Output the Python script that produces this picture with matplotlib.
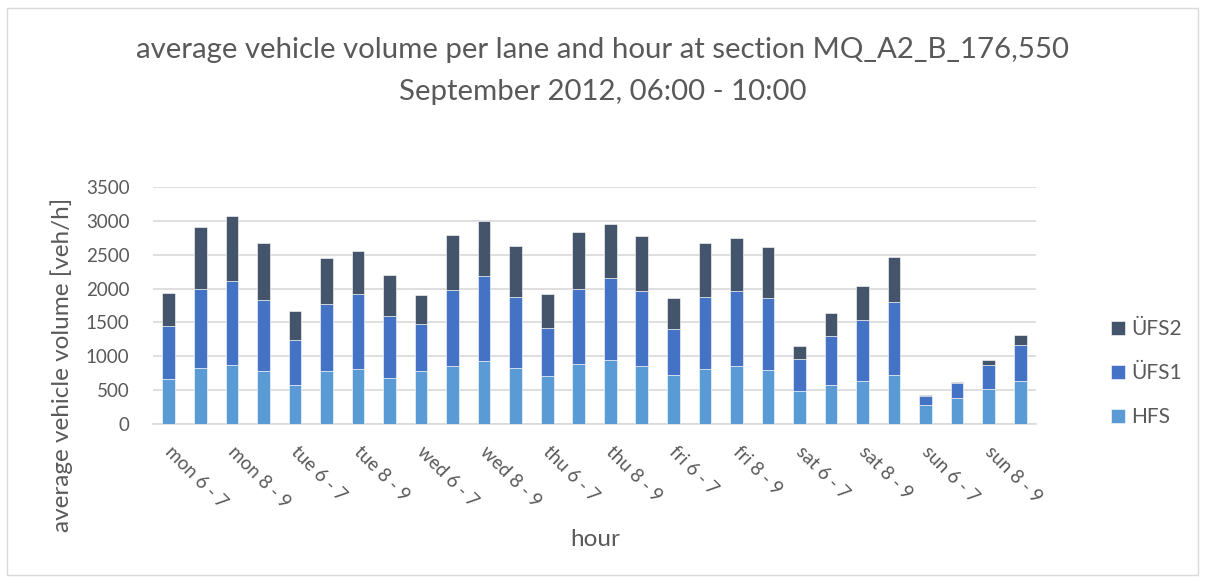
import matplotlib.pyplot as plt
import matplotlib.transforms as mtransforms
import numpy as np

plt.rcParams['font.family'] = ['Lato', 'DejaVu Sans']

days = ['mon', 'tue', 'wed', 'thu', 'fri', 'sat', 'sun']
hours = ['6 - 7', '7 - 8', '8 - 9', '9 - 10']
categories = [d + ' ' + h for d in days for h in hours]

# values (veh/h)
hfs = [670, 833, 873, 779, 582, 789, 818, 685, 779, 863,
       937, 833, 715, 892, 951, 863, 730, 818, 863, 804,
       488, 582, 641, 730, 276, 389, 518, 641]
ufs1 = [779, 1168, 1232, 1055, 660, 976, 1105, 912, 695, 1119,
        1247, 1045, 705, 1109, 1208, 1094, 675, 1060, 1099, 1050,
        473, 720, 897, 1074, 138, 212, 350, 522]
ufs2 = [488, 908, 966, 838, 424, 680, 626, 597, 424, 813,
        809, 750, 493, 839, 799, 824, 463, 799, 779, 759,
        193, 335, 498, 656, 8, 25, 74, 153]

GREY = '#595959'
fig = plt.figure(figsize=(12.06, 5.80), dpi=100)
fig.patches.append(plt.Rectangle((0.006, 0.008), 0.987, 0.978, transform=fig.transFigure,
                                 fill=False, edgecolor='#D9D9D9', linewidth=1))
ax = fig.add_axes([153 / 1206, 1 - 424 / 580, 883 / 1206, 237 / 580])

x = np.arange(len(categories))
w = 0.4
b1 = ax.bar(x, hfs, w, color='#5B9BD5', label='HFS', edgecolor='white', linewidth=0.4, zorder=3)
b2 = ax.bar(x, ufs1, w, bottom=hfs, color='#4472C4', label='ÜFS1', edgecolor='white', linewidth=0.4, zorder=3)
b3 = ax.bar(x, ufs2, w, bottom=np.array(hfs) + np.array(ufs1), color='#44546A', label='ÜFS2',
            edgecolor='white', linewidth=0.4, zorder=3)

ax.set_xlim(-0.5, len(categories) - 0.5)
ax.set_ylim(0, 3500)
ax.set_yticks(range(0, 3501, 500))
ax.grid(axis='y', color='#D9D9D9', linewidth=1.2, zorder=0)
for s in ['top', 'right', 'left']:
    ax.spines[s].set_visible(False)
ax.spines['bottom'].set_color('#D9D9D9')
ax.spines['bottom'].set_linewidth(1.2)
ax.tick_params(length=0, colors=GREY, labelsize=13.5)
ax.tick_params(axis='y', pad=17)

# Excel shows every second category label
ax.set_xticks(x[::2])
ax.set_xticklabels(categories[::2], rotation=-45, ha='left', va='top', rotation_mode='anchor')
ax.tick_params(axis='x', pad=14)
shift = mtransforms.ScaledTranslation(5 / 100, 0, fig.dpi_scale_trans)
for lbl in ax.get_xticklabels():
    lbl.set_transform(lbl.get_transform() + shift)

ax.set_ylabel('average vehicle volume [veh/h]', color=GREY, fontsize=17.5)
ax.yaxis.set_label_coords((62 - 153) / 883, (424 - 365) / 237)
ax.yaxis.label.set_va('center')
ax.set_xlabel('hour', color=GREY, fontsize=17.5)
ax.xaxis.set_label_coords((595 - 153) / 883, (424 - 540) / 237)
ax.xaxis.label.set_va('center')

fig.text(0.5, 0.913, 'average vehicle volume per lane and hour at section MQ_A2_B_176,550',
         ha='center', va='center', color=GREY, fontsize=21.2)
fig.text(0.5, 0.841, 'September 2012, 06:00 - 10:00', ha='center', va='center', color=GREY, fontsize=21.2)

leg = fig.legend(handles=[b3, b2, b1], loc='center left', bbox_to_anchor=(1111 / 1206, 1 - 373 / 580),
                 frameon=False, fontsize=15, labelspacing=1.15, handlelength=0.67,
                 handleheight=0.67, handletextpad=0.3, borderpad=0, borderaxespad=0)
for t in leg.get_texts():
    t.set_color(GREY)

fig.savefig('out.png', dpi=100)
